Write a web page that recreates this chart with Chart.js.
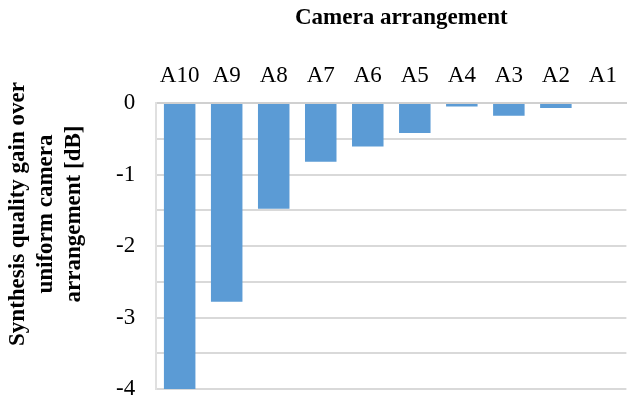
<!DOCTYPE html>
<html lang="en">
<head>
    <meta charset="UTF-8">
    <title>Camera arrangement</title>
    <script src="https://cdn.jsdelivr.net/npm/chart.js"></script>
    <style>
        html, body { margin: 0; padding: 0; background: #fff; }
        #chart-container { width: 633px; height: 401px; }
    </style>
</head>
<body>
    <div id="chart-container">
        <canvas id="gainChart"></canvas>
    </div>

    <script>
        // Data
        const categories = ['A10', 'A9', 'A8', 'A7', 'A6', 'A5', 'A4', 'A3', 'A2', 'A1'];
        const gainValues = [-4.0, -2.78, -1.48, -0.82, -0.61, -0.42, -0.05, -0.18, -0.07, 0];
        const yTickLabels = ['0', '-1', '-2', '-3', '-4'];
        const xTitle = 'Camera arrangement';
        const yTitleLines = ['Synthesis quality gain over', 'uniform camera', 'arrangement [dB]'];

        const serif = '"Liberation Serif", "DejaVu Serif", serif';

        // Both axis titles sit a little off-centre in the original, so draw them ourselves
        // (Chart.js still reserves their space through transparent titles).
        const axisTitlePlugin = {
            id: 'axisTitles',
            afterDraw(chart) {
                const area = chart.chartArea;
                const c = chart.ctx;
                c.save();
                c.font = 'bold 23px ' + serif;
                c.fillStyle = '#000';
                c.textAlign = 'center';
                c.textBaseline = 'middle';

                // x title, above the category labels
                const sx = chart.scales.x;
                c.fillText(xTitle, (area.left + area.right) / 2 + 10, sx.top + 23 / 2);

                // y title, three lines rotated
                const sy = chart.scales.y;
                const lh = 28;
                c.translate(sy.left + lh * yTitleLines.length / 2, (area.top + area.bottom) / 2 - 32);
                c.rotate(-Math.PI / 2);
                yTitleLines.forEach(function(line, i) {
                    c.fillText(line, 0, (i - (yTitleLines.length - 1) / 2) * lh);
                });
                c.restore();
            }
        };

        const ctx = document.getElementById('gainChart').getContext('2d');
        new Chart(ctx, {
            type: 'bar',
            data: {
                labels: categories,
                datasets: [{
                    data: gainValues,
                    backgroundColor: '#5b9bd5',
                    borderWidth: 0,
                    barPercentage: 0.67,
                    categoryPercentage: 1.0
                }]
            },
            plugins: [axisTitlePlugin],
            options: {
                responsive: true,
                maintainAspectRatio: false,
                animation: false,
                layout: { padding: { top: 7, right: 1, bottom: 0, left: 4 } },
                plugins: {
                    legend: { display: false },
                    tooltip: { enabled: false }
                },
                scales: {
                    x: {
                        position: 'top',
                        grid: { display: false, drawTicks: false },
                        border: { color: '#d0d0d0', width: 2 },
                        ticks: {
                            color: '#000',
                            padding: 16,
                            font: { family: serif, size: 23, lineHeight: 1.0 }
                        },
                        title: {
                            display: true,
                            text: xTitle,
                            color: 'rgba(0,0,0,0)',
                            padding: { top: 0, bottom: 18 },
                            font: { family: serif, size: 23, weight: 'bold', lineHeight: 1.0 }
                        }
                    },
                    y: {
                        min: -4,
                        max: 0,
                        afterFit: function(scale) {
                            scale.paddingBottom = 12;
                        },
                        grid: {
                            color: '#d9d9d9',
                            lineWidth: 2,
                            drawTicks: false
                        },
                        border: { color: '#e0e0e0', width: 2 },
                        ticks: {
                            stepSize: 0.5,
                            color: '#000',
                            padding: 21,
                            font: { family: serif, size: 23 },
                            callback: function(value) {
                                if (!Number.isInteger(value)) return '';
                                return yTickLabels[-value];
                            }
                        },
                        title: {
                            display: true,
                            text: yTitleLines,
                            color: 'rgba(0,0,0,0)',
                            padding: { top: 0, bottom: 7 },
                            font: { family: serif, size: 23, weight: 'bold', lineHeight: 28 / 23 }
                        }
                    }
                }
            }
        });
    </script>
</body>
</html>
